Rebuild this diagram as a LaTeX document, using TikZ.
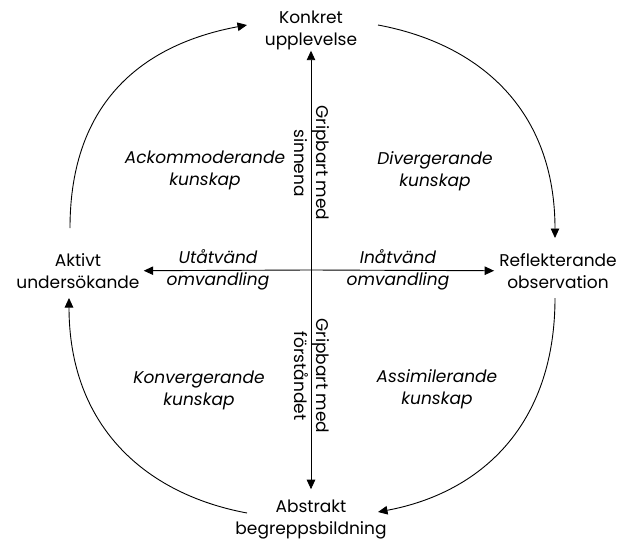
\documentclass[tikz,border=0pt]{standalone}
\usepackage{fontspec}
\setmainfont{Poppins}
\usetikzlibrary{arrows.meta}
\begin{document}
\begin{tikzpicture}[x=1pt,y=-1pt,
  txt/.style={font=\fontsize{17}{22}\selectfont, align=center, inner sep=2pt},
  lbl/.style={font=\fontsize{17}{22}\selectfont\itshape, align=center, inner sep=2pt},
  conn/.style={line width=0.9pt, -{Triangle[length=9.5pt,width=8.5pt]}},
  arc/.style={line width=0.9pt, -{Triangle[length=9.5pt,width=8.5pt]}}]
\useasboundingbox (0,0) rectangle (624,543);
% main nodes
\node[txt] (konkret) at (311,30) {Konkret\\upplevelse};
\node[txt] (aktivt) at (78,271) {Aktivt\\undersökande};
\node[txt] (reflekt) at (558,271) {Reflekterande\\observation};
\node[txt] (abstrakt) at (311,520) {Abstrakt\\begreppsbildning};
% axes
\coordinate (c) at (311,270);
\draw[conn, shorten >=-1pt] (c) -- (konkret);
\draw[conn, shorten >=9pt] (c) -- (abstrakt);
\draw[conn, shorten >=2pt] (c) -- (aktivt);
\draw[conn, shorten >=3pt] (c) -- (reflekt);
% axis labels
\node[txt, rotate=-90] (sinne) at (312,163) {Gripbart med\\sinnena};
\node[txt, rotate=-90] (forst) at (312,376) {Gripbart med\\förståndet};
\node[lbl] (ut) at (218,270) {Utåtvänd\\omvandling};
\node[lbl] (in) at (398,270) {Inåtvänd\\omvandling};
% quadrant labels
\node[lbl] (ack) at (205,170) {Ackommoderande\\kunskap};
\node[lbl] (div) at (435,171) {Divergerande\\kunskap};
\node[lbl] (konv) at (199,390) {Konvergerande\\kunskap};
\node[lbl] (assim) at (437,389) {Assimilerande\\kunskap};
% cycle arcs
\coordinate (a1) at (70,228);
\coordinate (k1) at (247,25);
\coordinate (k2) at (378,25);
\coordinate (r1) at (555,238);
\coordinate (r2) at (555,298);
\coordinate (b1) at (378,512);
\coordinate (b2) at (247,513);
\coordinate (a2) at (69,298);
\draw[arc] (a1) .. controls (70,100) and (145,44) .. (k1);
\draw[arc] (k2) .. controls (480,44) and (555,110) .. (r1);
\draw[arc] (r2) .. controls (555,426) and (480,493) .. (b1);
\draw[arc] (b2) .. controls (145,494) and (69,426) .. (a2);
\end{tikzpicture}
\end{document}
